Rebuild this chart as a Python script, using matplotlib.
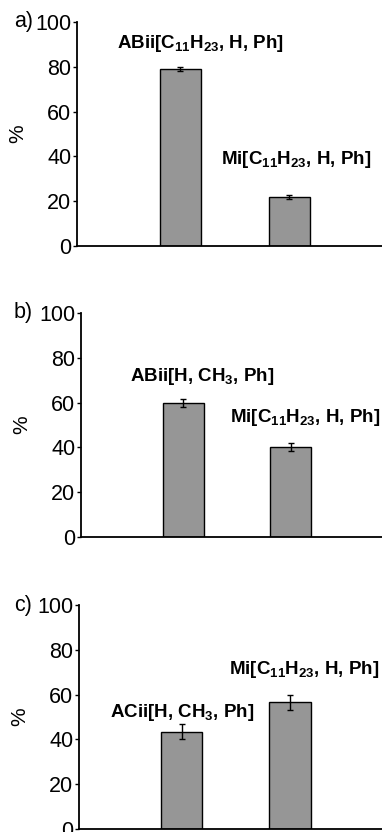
import matplotlib
matplotlib.use('Agg')
import matplotlib.pyplot as plt
from matplotlib.transforms import blended_transform_factory

plt.rcParams['font.family'] = ['Liberation Sans', 'DejaVu Sans']
plt.rcParams['mathtext.fontset'] = 'custom'
plt.rcParams['mathtext.rm'] = 'Liberation Sans:bold'
plt.rcParams['mathtext.it'] = 'Liberation Sans:bold'
plt.rcParams['mathtext.bf'] = 'Liberation Sans:bold'

# data per panel
panel_tags = ['a)', 'b)', 'c)']
values_a = [79.0, 21.8]
errors_a = [0.8, 0.8]
values_b = [59.8, 40.2]
errors_b = [1.6, 1.6]
values_c = [43.5, 56.5]
errors_c = [3.5, 3.5]
labels_a = ['ABii[C$_{11}$H$_{23}$, H, Ph]', 'Mi[C$_{11}$H$_{23}$, H, Ph]']
labels_b = ['ABii[H, CH$_{3}$, Ph]', 'Mi[C$_{11}$H$_{23}$, H, Ph]']
labels_c = ['ACii[H, CH$_{3}$, Ph]', 'Mi[C$_{11}$H$_{23}$, H, Ph]']
yticks = [0, 20, 40, 60, 80, 100]

# label anchor positions (data coords)
label_pos_a = [(0.18, 90.5), (1.06, 38.5)]
label_pos_b = [(0.18, 71.5), (1.13, 53.5)]
label_pos_c = [(0.0, 51.8), (1.13, 71.0)]

fig = plt.figure(figsize=(3.82, 8.32), dpi=100)

# [left, bottom, width, height] in figure fraction
rects = [
    [0.2016, 0.7043, 0.7984, 0.2693],
    [0.2120, 0.3546, 0.7880, 0.2692],
    [0.2068, 0.0036, 0.7932, 0.2692],
]

panels = [
    (values_a, errors_a, labels_a, label_pos_a),
    (values_b, errors_b, labels_b, label_pos_b),
    (values_c, errors_c, labels_c, label_pos_c),
]

for i, (vals, errs, labs, lpos) in enumerate(panels):
    ax = fig.add_axes(rects[i])
    x = [0, 1]
    ax.bar(x, vals, width=0.38, color='#969696', edgecolor='black', linewidth=1.0,
           yerr=errs, error_kw=dict(ecolor='black', elinewidth=1.0, capsize=2.5, capthick=1.0))
    ax.set_xlim(-0.95, 1.85)
    ax.set_ylim(0, 100)
    ax.set_yticks(yticks)
    ax.set_xticks([])
    ax.tick_params(axis='y', labelsize=15.5, length=3, width=1, pad=1)
    for s in ['top', 'right']:
        ax.spines[s].set_visible(False)
    ax.spines['left'].set_linewidth(1.3)
    ax.spines['bottom'].set_linewidth(1.3)
    ax.set_ylabel('%', fontsize=15, labelpad=6)
    for (tx, ty), t in zip(lpos, labs):
        ax.text(tx, ty, t, ha='center', va='center', fontsize=13.5, fontweight='bold')
    # panel tag next to the top tick label
    tr = blended_transform_factory(fig.transFigure, ax.transAxes)
    ax.text(14 / 382, 1.0, panel_tags[i], transform=tr, fontsize=15.5,
            ha='left', va='center')

fig.savefig('out.png', dpi=100)
